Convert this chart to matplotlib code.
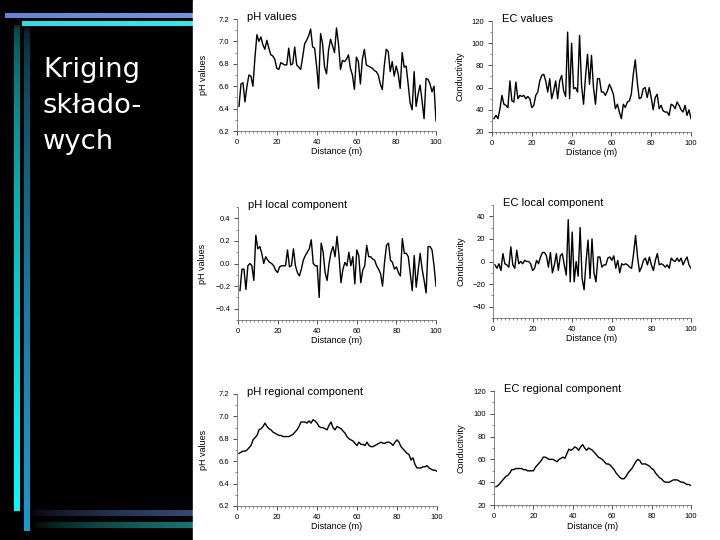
import numpy as np
from matplotlib import pyplot as plt
from matplotlib.patches import Rectangle
from matplotlib.ticker import MultipleLocator

# distance along the transect (m)
distance = np.arange(1, 101)

ph_values = [6.42, 6.62, 6.63, 6.46, 6.60, 6.70, 6.69, 6.60, 6.85, 7.06,
             7.00, 7.04, 6.97, 6.93, 7.01, 6.94, 6.88, 6.87, 6.84, 6.76,
             6.75, 6.81, 6.80, 6.79, 6.79, 6.94, 6.79, 6.80, 6.95, 6.79,
             6.77, 6.75, 6.86, 6.98, 7.01, 7.05, 7.11, 6.95, 6.94, 6.78,
             6.58, 7.07, 6.98, 6.77, 6.71, 6.92, 7.02, 6.96, 6.90, 7.12,
             6.98, 6.75, 6.83, 6.82, 6.84, 6.88, 6.76, 6.70, 6.57, 6.86,
             6.82, 6.62, 6.84, 6.93, 6.79, 6.78, 6.77, 6.76, 6.74, 6.73,
             6.70, 6.62, 6.57, 6.78, 6.93, 6.91, 6.73, 6.82, 6.69, 6.78,
             6.71, 6.58, 6.90, 6.77, 6.78, 6.62, 6.45, 6.39, 6.73, 6.42,
             6.53, 6.61, 6.47, 6.31, 6.67, 6.66, 6.62, 6.55, 6.60, 6.29]

ec_values = [32, 35, 32, 41, 53, 45, 44, 42, 66, 48,
             47, 65, 50, 53, 52, 53, 50, 52, 50, 42,
             44, 53, 56, 66, 71, 72, 66, 56, 68, 50,
             57, 66, 50, 66, 71, 57, 52, 110, 50, 100,
             59, 60, 56, 107, 62, 45, 70, 90, 63, 89,
             60, 45, 68, 68, 56, 56, 53, 57, 63, 59,
             54, 41, 45, 38, 32, 45, 42, 47, 48, 54,
             72, 85, 65, 50, 51, 59, 60, 51, 60, 51,
             40, 51, 54, 41, 44, 39, 38, 38, 35, 45,
             44, 41, 47, 44, 40, 38, 44, 35, 40, 32]

ph_local = [-0.24, -0.05, -0.05, -0.23, -0.02, 0.00, -0.02, -0.15, 0.25, 0.13,
            0.15, 0.09, 0.00, 0.06, 0.03, 0.01, 0.00, -0.02, -0.06, -0.08,
            -0.03, -0.02, -0.02, -0.02, 0.12, -0.03, -0.02, 0.13, -0.02, -0.08,
            -0.11, -0.05, 0.03, 0.07, 0.10, 0.13, 0.21, 0.00, -0.02, -0.02,
            -0.30, 0.18, 0.10, -0.08, -0.15, 0.00, 0.10, 0.15, 0.06, 0.24,
            0.07, -0.17, -0.05, 0.01, -0.02, 0.10, -0.02, 0.06, -0.18, 0.12,
            0.07, -0.17, -0.06, -0.02, 0.16, 0.06, 0.06, 0.04, 0.03, -0.02,
            -0.05, -0.09, -0.20, 0.01, 0.16, 0.18, 0.03, 0.01, -0.05, -0.03,
            -0.08, -0.11, 0.22, 0.09, 0.09, 0.06, -0.09, -0.24, 0.07, -0.21,
            -0.06, 0.09, -0.05, -0.15, -0.26, 0.15, 0.15, 0.12, -0.02, -0.20]

ec_local = [-3, -6, -2, -8, 7, -2, -3, -5, 13, -3,
            -6, 10, -2, 0, -2, 1, 0, 0, -2, -8,
            -6, 1, -2, 4, 8, 8, 5, -5, 8, -10,
            -3, 7, -8, 5, 7, -3, -12, 37, -18, 26,
            -18, 0, -13, 30, -15, -25, 0, 19, -15, 20,
            -10, -18, 4, 4, -5, -3, -3, 3, 4, 1,
            5, -6, 1, -10, -2, -3, -2, -3, -5, -6,
            7, 23, 4, -9, -5, 1, 3, -3, 4, -3,
            -8, 1, 7, -3, -2, -3, -5, -3, -6, 3,
            1, 0, 3, 0, 3, -3, 1, 4, -3, -6]

ph_regional = [6.67, 6.68, 6.69, 6.69, 6.70, 6.72, 6.74, 6.79, 6.81, 6.83,
               6.88, 6.89, 6.91, 6.94, 6.91, 6.89, 6.88, 6.86, 6.85, 6.84,
               6.83, 6.83, 6.82, 6.82, 6.82, 6.82, 6.83, 6.84, 6.86, 6.88,
               6.91, 6.95, 6.95, 6.95, 6.94, 6.96, 6.94, 6.97, 6.96, 6.94,
               6.91, 6.90, 6.90, 6.89, 6.88, 6.92, 6.95, 6.90, 6.88, 6.91,
               6.90, 6.89, 6.87, 6.85, 6.82, 6.80, 6.79, 6.78, 6.76, 6.74,
               6.77, 6.75, 6.75, 6.74, 6.77, 6.74, 6.73, 6.73, 6.74, 6.75,
               6.76, 6.77, 6.76, 6.76, 6.77, 6.77, 6.76, 6.74, 6.77, 6.79,
               6.77, 6.73, 6.71, 6.69, 6.67, 6.66, 6.61, 6.63, 6.57, 6.54,
               6.54, 6.54, 6.55, 6.55, 6.56, 6.54, 6.53, 6.52, 6.52, 6.51]

ec_regional = [36, 37, 39, 41, 43, 45, 46, 48, 51, 51,
               52, 52, 52, 52, 51, 51, 50, 50, 50, 50,
               53, 55, 57, 59, 62, 62, 61, 60, 60, 60,
               59, 58, 60, 61, 62, 61, 65, 69, 68, 69,
               71, 70, 68, 71, 73, 70, 68, 70, 69, 68,
               66, 64, 62, 61, 60, 58, 56, 56, 55, 53,
               51, 48, 46, 44, 43, 43, 45, 48, 50, 52,
               55, 58, 60, 59, 56, 56, 56, 55, 54, 52,
               51, 48, 46, 44, 43, 41, 40, 40, 40, 41,
               42, 42, 42, 41, 40, 40, 39, 38, 38, 37]

W, H = 720, 540
fig = plt.figure(figsize=(7.2, 5.4), dpi=100, facecolor='black')

# slide background drawn in pixel coordinates
bg = fig.add_axes([0, 0, 1, 1])
bg.set_xlim(0, W)
bg.set_ylim(H, 0)
bg.axis('off')
bg.add_patch(Rectangle((193, 0), W - 193, H, color='white'))


def gradient(ax, x0, x1, y0, y1, c0, c1, vertical, gamma=1.0):
    n = 256
    t = np.linspace(0, 1, n) ** gamma
    c0 = np.array(c0) / 255.0
    c1 = np.array(c1) / 255.0
    cols = c0[None, :] * (1 - t[:, None]) + c1[None, :] * t[:, None]
    if vertical:
        img = cols[:, None, :]
    else:
        img = cols[None, :, :]
    ax.imshow(img, extent=(x0, x1, y1, y0), aspect='auto', interpolation='bilinear')


gradient(bg, 5, 193, 13, 18, (100, 130, 215), (115, 150, 225), False)
gradient(bg, 22, 193, 21, 26, (40, 225, 230), (45, 235, 235), False)
gradient(bg, 14, 20, 25, 511, (8, 45, 50), (10, 250, 250), True, 0.45)
gradient(bg, 24, 30, 28, 531, (8, 20, 28), (25, 155, 205), True, 0.45)
gradient(bg, 30, 193, 510, 516, (0, 0, 0), (52, 72, 120), False, 0.6)
gradient(bg, 33, 193, 522, 528, (0, 0, 0), (18, 120, 118), False, 0.6)
bg.set_xlim(0, W)
bg.set_ylim(H, 0)

bg.text(43, 57, 'Kriging\nskłado-\nwych', color='white', fontsize=19.7,
        family='DejaVu Sans', va='top', ha='left', linespacing=1.5)

FONT = ['Liberation Sans', 'DejaVu Sans']


def panel(box, y, ylim, yticks, minor, title, ylabel, ylx):
    l, t, r, b = box
    ax = fig.add_axes([l / W, 1 - b / H, (r - l) / W, (b - t) / H])
    ax.patch.set_alpha(0)
    ax.plot(distance, y, color='black', linewidth=1.0)
    ax.set_xlim(0, 100)
    ax.set_ylim(*ylim)
    for s in ['top', 'right']:
        ax.spines[s].set_visible(False)
    for s in ['left', 'bottom']:
        ax.spines[s].set_linewidth(0.5)
        ax.spines[s].set_color('#555555')
    ax.xaxis.set_major_locator(MultipleLocator(20))
    ax.xaxis.set_minor_locator(MultipleLocator(2))
    ax.set_yticks(yticks)
    ax.yaxis.set_minor_locator(MultipleLocator(minor))
    ax.tick_params(which='major', length=3, width=0.6, labelsize=5.5, pad=2.5,
                   color='#333333')
    ax.tick_params(which='minor', length=1.5, width=0.5, color='#666666')
    for lab in ax.get_xticklabels() + ax.get_yticklabels():
        lab.set_family(FONT)
    ax.set_xlabel('Distance (m)', fontsize=6.5, family=FONT)
    ax.xaxis.set_label_coords(0.5, -0.145)
    ax.set_ylabel(ylabel, fontsize=6.5, family=FONT)
    ax.yaxis.set_label_coords(ylx, 0.5)
    ax.text(0.05, 1.02, title, transform=ax.transAxes, fontsize=8, family=FONT,
            va='center', ha='left')
    return ax


ph_ticks = [6.2, 6.4, 6.6, 6.8, 7.0, 7.2]
ec_ticks = [20, 40, 60, 80, 100, 120]

panel((237, 19, 436, 131), ph_values, (6.2, 7.2), ph_ticks, 0.1,
      'pH values', 'pH values', -0.146)
panel((492, 21, 691, 132), ec_values, (20, 120), ec_ticks, 10,
      'EC values', 'Conductivity', -0.136)
panel((238, 207, 436, 320), ph_local, (-0.5, 0.5), [-0.4, -0.2, 0.0, 0.2, 0.4], 0.1,
      'pH local component', 'pH values', -0.157)
panel((493, 205, 691, 318), ec_local, (-50, 50), [-40, -20, 0, 20, 40], 10,
      'EC local component', 'Conductivity', -0.141)
panel((237, 394, 437, 506), ph_regional, (6.2, 7.2), ph_ticks, 0.1,
      'pH regional component', 'pH values', -0.145)
panel((494, 391, 691, 505), ec_regional, (20, 120), ec_ticks, 10,
      'EC regional component', 'Conductivity', -0.146)

fig.savefig('out.png', dpi=100, facecolor='black')
